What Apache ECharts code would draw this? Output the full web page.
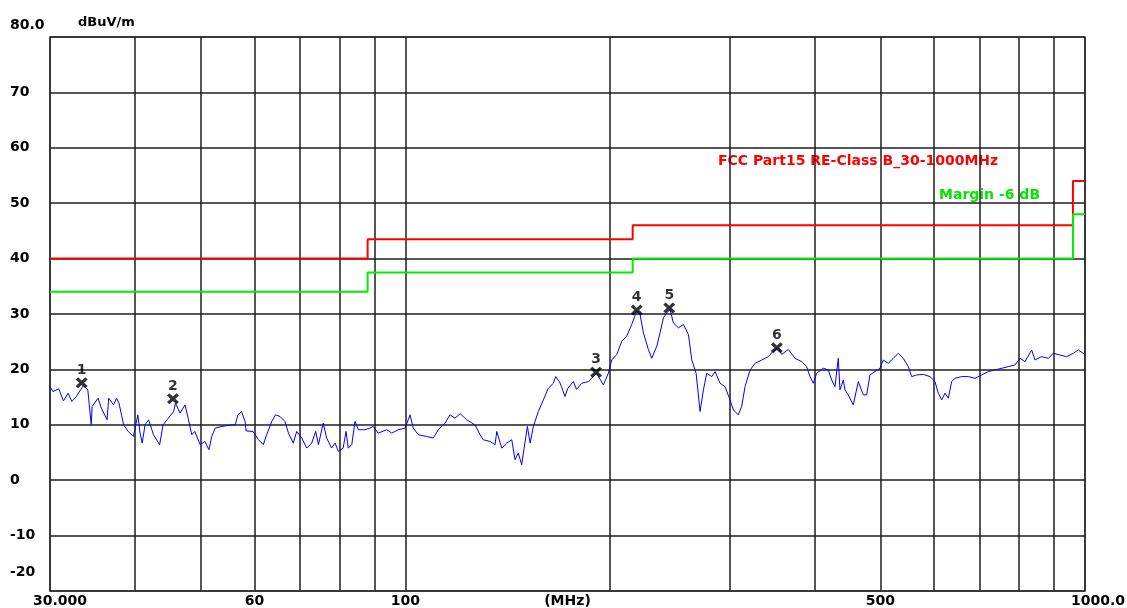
<!DOCTYPE html>
<html>
<head>
<meta charset="utf-8">
<title>Radiated emission</title>
<script src="https://cdn.jsdelivr.net/npm/echarts@6/dist/echarts.min.js"></script>
<style>
  html, body { margin: 0; padding: 0; background: #fff; }
  #chart { width: 1127px; height: 608px; }
</style>
</head>
<body>
<div id="chart"></div>
<script>
// 扫描曲线 (MHz / dBuV/m)
var traceFreq = [30.0, 30.3, 30.9, 31.4, 31.9, 32.3, 32.8, 33.6, 34.1, 34.5, 34.6, 35.3, 35.7, 36.4, 36.6, 37.2, 37.6, 37.9, 38.5, 39.1,
  39.8, 40.4, 40.7, 41.0, 41.4, 41.9, 42.6, 43.5, 44.0, 44.8, 45.6, 45.9, 46.6, 47.4, 47.9, 48.5, 49.0, 49.9, 50.7, 51.4,
  51.9, 52.5, 53.7, 54.9, 56.2, 56.7, 57.4, 58.1, 58.3, 59.7, 60.8, 61.8, 62.5, 63.6, 64.4, 65.4, 66.5, 67.3, 68.4, 69.2,
  70.4, 71.6, 72.8, 73.8, 74.5, 75.7, 76.6, 77.9, 78.8, 79.7, 81.0, 81.8, 82.4, 83.4, 84.3, 85.3, 87.2, 88.7, 89.7, 91.2,
  93.9, 95.5, 97.6, 99.9, 101.6, 102.7, 104.5, 107.5, 109.9, 111.8, 114.4, 116.3, 118.3, 120.4, 123.1, 126.6, 128.8, 130.2, 133.2, 135.5,
  136.3, 138.6, 141.0, 143.4, 145.0, 146.6, 148.3, 149.4, 151.2, 152.6, 154.3, 156.9, 159.6, 162.3, 165.1, 166.4, 168.5, 169.7, 171.7, 173.4,
  176.7, 178.6, 181.8, 185.9, 189.0, 191.1, 192.3, 195.6, 198.9, 201.2, 204.7, 208.2, 211.7, 215.3, 219.0, 221.5, 224.0, 227.8, 230.4, 234.4,
  237.0, 239.7, 242.4, 245.2, 247.9, 252.2, 256.5, 260.9, 263.9, 267.8, 271.4, 274.5, 277.6, 282.4, 285.6, 290.4, 295.3, 300.4, 303.8, 308.9,
  312.5, 316.1, 321.5, 327.0, 334.5, 342.0, 347.8, 353.8, 357.9, 366.0, 374.4, 383.0, 389.5, 393.9, 398.3, 402.9, 412.0, 419.1, 423.9, 428.7,
  433.5, 436.0, 440.9, 443.4, 448.4, 456.1, 463.9, 471.8, 477.3, 482.6, 490.9, 499.3, 504.9, 513.5, 522.3, 531.2, 540.3, 549.5, 555.9, 565.4,
  578.2, 591.5, 601.6, 608.3, 615.4, 622.3, 629.3, 636.6, 643.8, 658.5, 673.4, 688.9, 704.7, 720.6, 737.1, 754.1, 771.1, 788.8, 802.3, 816.0,
  834.7, 844.1, 863.4, 883.0, 898.1, 918.7, 939.8, 961.0, 977.4, 1000.0]
var traceLevel = [16.9, 16.0, 16.5, 14.3, 15.7, 14.2, 15.1, 17.1, 16.3, 10.0, 13.3, 14.8, 13.0, 10.9, 14.8, 13.6, 14.8, 13.9, 10.0, 8.8,
  7.9, 11.8, 8.5, 6.7, 10.0, 10.9, 8.2, 6.4, 10.0, 11.2, 12.4, 13.9, 12.1, 13.6, 11.2, 8.2, 8.8, 6.4, 7.0, 5.5,
  7.9, 9.4, 9.7, 9.9, 10.0, 11.8, 12.4, 10.6, 8.9, 8.8, 7.3, 6.4, 8.2, 10.6, 11.8, 11.5, 10.6, 8.5, 6.7, 8.8,
  7.6, 5.8, 6.7, 8.8, 6.4, 10.3, 7.6, 5.8, 6.7, 5.2, 5.8, 8.8, 5.8, 6.4, 10.6, 9.1, 9.1, 9.4, 9.7, 8.5,
  9.1, 8.5, 9.1, 9.4, 11.8, 9.4, 8.2, 7.9, 7.6, 9.1, 10.3, 11.8, 11.2, 12.0, 10.9, 10.0, 8.2, 7.3, 7.0, 6.4,
  8.8, 5.8, 6.7, 7.3, 3.7, 4.9, 2.8, 5.5, 9.7, 6.7, 9.7, 12.4, 14.5, 16.6, 17.5, 18.7, 17.8, 16.9, 15.1, 16.6,
  17.8, 16.4, 17.5, 17.8, 18.7, 19.3, 19.0, 17.2, 19.3, 21.7, 22.7, 25.1, 26.0, 28.1, 30.5, 29.9, 26.6, 23.6, 22.0, 24.2,
  26.6, 29.3, 30.2, 30.8, 28.4, 27.5, 28.1, 26.3, 21.7, 19.3, 12.4, 16.3, 19.3, 18.7, 19.6, 17.5, 16.9, 14.5, 12.7, 11.8,
  13.3, 16.9, 19.9, 21.1, 21.7, 22.3, 23.3, 23.9, 22.7, 23.6, 22.0, 21.4, 20.5, 18.7, 17.5, 19.3, 20.2, 19.9, 18.1, 16.9,
  22.0, 16.3, 18.1, 16.3, 15.4, 13.6, 17.8, 15.4, 15.4, 19.0, 19.6, 20.2, 21.7, 21.1, 22.0, 22.9, 22.0, 20.5, 18.7, 19.0,
  19.1, 18.7, 17.8, 15.7, 14.5, 15.7, 14.8, 17.8, 18.4, 18.7, 18.7, 18.4, 19.0, 19.6, 19.9, 20.2, 20.5, 20.8, 22.0, 21.4,
  23.5, 21.7, 22.3, 22.0, 22.9, 22.6, 22.3, 22.9, 23.5, 22.7]

// 限值线 FCC Part15 Class B 及 -6 dB 余量
var limitFreq = [30, 88, 88, 216, 216, 960, 960, 1000]
var limitLevel = [40, 40, 43.5, 43.5, 46, 46, 54, 54]
var marginLevel = [34, 34, 37.5, 37.5, 40, 40, 48, 48]

// 标记点
var markerNames = ['1', '2', '3', '4', '5', '6']
var markerFreq = [33.4, 45.5, 190.8, 219.0, 244.5, 352.0]
var markerLevel = [17.6, 14.7, 19.5, 30.7, 31.1, 23.9]

// 坐标轴
var gridFreqs = [30, 40, 50, 60, 70, 80, 90, 100, 200, 300, 400, 500, 600, 700, 800, 900, 1000]
var labelFreqs = [30, 60, 100, 500, 1000]

function zip (xs, ys) {
  return xs.map(function (x, i) { return [x, ys[i]] })
}

var font = 'DejaVu Sans'
var chart = echarts.init(document.getElementById('chart'))
chart.setOption({
  animation: false,
  backgroundColor: '#fff',
  grid: {
    left: 50,
    right: 42,
    top: 37,
    bottom: 17,
    outerBoundsMode: 'none',
    show: true,
    backgroundColor: '#fff',
    borderColor: '#8c8c8c',
    borderWidth: 2
  },
  xAxis: {
    type: 'log',
    logBase: 10,
    min: 30,
    max: 1000,
    name: '(MHz)',
    nameLocation: 'middle',
    nameGap: 3,
    nameMoveOverlap: false,
    nameTextStyle: { color: '#000', fontFamily: font, fontWeight: 'bold', fontSize: 14, verticalAlign: 'top' },
    axisLine: { show: false },
    axisTick: { show: false, customValues: gridFreqs },
    splitLine: { show: true, lineStyle: { color: '#1e1e1e', width: 1.5 } },
    axisLabel: {
      customValues: labelFreqs,
      margin: 3,
      color: '#000',
      fontFamily: font,
      fontWeight: 'bold',
      fontSize: 14,
      formatter: function (v) {
        var r = Math.round(v)
        if (r === 30) return '{first|30.000}'
        if (r === 1000) return '{last|1000.0}'
        return String(r)
      },
      rich: {
        first: { padding: [0, 0, 0, 20], color: '#000', fontFamily: font, fontWeight: 'bold', fontSize: 14 },
        last: { padding: [0, 0, 0, 26], color: '#000', fontFamily: font, fontWeight: 'bold', fontSize: 14 }
      }
    }
  },
  yAxis: {
    type: 'value',
    min: -20,
    max: 80,
    interval: 10,
    axisLine: { show: false },
    axisTick: { show: false },
    splitLine: { show: true, lineStyle: { color: '#1e1e1e', width: 1.5 } },
    axisLabel: {
      align: 'left',
      margin: 40,
      color: '#000',
      fontFamily: font,
      fontWeight: 'bold',
      fontSize: 14,
      formatter: function (v) {
        if (v === 80) return '{top|80.0}'
        if (v === -20) return '{bot|-20}'
        return String(v)
      },
      rich: {
        top: { padding: [0, 0, 24, 0], color: '#000', fontFamily: font, fontWeight: 'bold', fontSize: 14 },
        bot: { padding: [0, 0, 38, 0], color: '#000', fontFamily: font, fontWeight: 'bold', fontSize: 14 }
      }
    }
  },
  graphic: [
    {
      type: 'text',
      left: 78,
      top: 16,
      style: { text: 'dBuV/m', fill: '#000', font: 'bold 13px "DejaVu Sans"' }
    },
    {
      type: 'text',
      left: 718,
      top: 154,
      style: { text: 'FCC Part15 RE-Class B_30-1000MHz', fill: '#ff0000', font: 'bold 14px "DejaVu Sans"' }
    },
    {
      type: 'text',
      left: 939,
      top: 188,
      style: { text: 'Margin -6 dB', fill: '#00e600', font: 'bold 14px "DejaVu Sans"' }
    }
  ],
  series: [
    {
      name: 'Limit',
      type: 'line',
      data: zip(limitFreq, limitLevel),
      showSymbol: false,
      lineStyle: { color: '#ff0000', width: 2 },
      z: 3
    },
    {
      name: 'Margin',
      type: 'line',
      data: zip(limitFreq, marginLevel),
      showSymbol: false,
      lineStyle: { color: '#00ee00', width: 2 },
      z: 3
    },
    {
      name: 'Trace',
      type: 'line',
      data: zip(traceFreq, traceLevel),
      showSymbol: false,
      lineStyle: { color: '#0000ff', width: 1 },
      z: 4
    },
    {
      name: 'Markers',
      type: 'scatter',
      data: markerFreq.map(function (f, i) {
        return { name: markerNames[i], value: [f, markerLevel[i]] }
      }),
      symbol: 'path://M0,2L2,0L5,3L8,0L10,2L7,5L10,8L8,10L5,7L2,10L0,8L3,5Z',
      symbolSize: [12, 11],
      itemStyle: { color: '#000' },
      label: {
        show: true,
        position: 'top',
        distance: 0,
        formatter: '{b}',
        color: '#000',
        fontFamily: font,
        fontWeight: 'bold',
        fontSize: 14
      },
      z: 5
    }
  ]
})
</script>
</body>
</html>
